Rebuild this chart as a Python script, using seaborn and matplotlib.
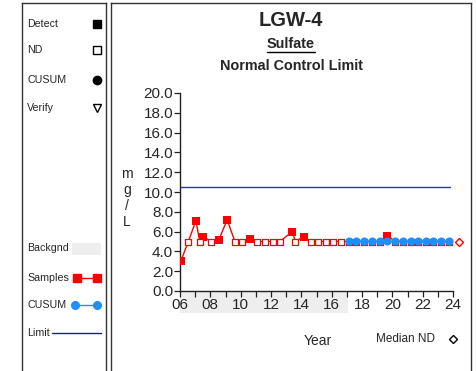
import numpy as np
import pandas as pd
import seaborn as sns
import matplotlib.pyplot as plt
from matplotlib.lines import Line2D
from matplotlib.patches import Rectangle

# data
sample_year = [6.05, 6.55, 7.05, 7.30, 7.51, 8.06, 8.57, 9.11, 9.62, 10.10,
               10.60, 11.09, 11.60, 12.10, 12.58, 13.41, 13.61, 14.16, 14.62, 15.12,
               15.60, 16.11, 16.61, 17.12, 17.62, 18.13, 18.68, 19.18, 19.68, 20.19,
               20.69, 21.20, 21.70, 22.23, 22.70, 23.24, 23.74]
sample_value = [3.0, 5.0, 7.1, 5.0, 5.5, 5.0, 5.2, 7.2, 5.0, 5.0,
                5.3, 5.0, 5.0, 5.0, 5.0, 6.0, 5.0, 5.5, 5.0, 5.0,
                5.0, 5.0, 5.0, 5.0, 5.0, 5.0, 5.0, 5.0, 5.6, 5.0,
                5.0, 5.0, 5.0, 5.0, 5.0, 5.0, 5.0]
detected = [1, 0, 1, 0, 1, 0, 1, 1, 0, 0,
            1, 0, 0, 0, 0, 1, 0, 1, 0, 0,
            0, 0, 0, 0, 0, 0, 0, 0, 1, 0,
            0, 0, 0, 0, 0, 0, 0]
cusum_year = [17.12, 17.62, 18.13, 18.68, 19.18, 19.68, 20.19, 20.69, 21.20, 21.70,
              22.23, 22.70, 23.24, 23.74]
cusum_value = [5.1, 5.1, 5.1, 5.1, 5.1, 5.1, 5.1, 5.1, 5.1, 5.1,
               5.1, 5.1, 5.1, 5.1]
limit_value = 10.55
limit_span = [6.0, 23.8]
background_span = [6.0, 17.1]
median_nd_year = 24.38
median_nd_value = 5.0
x_ticks = [6, 8, 10, 12, 14, 16, 18, 20, 22, 24]
x_labels = ['06', '08', '10', '12', '14', '16', '18', '20', '22', '24']
y_ticks = [0, 2, 4, 6, 8, 10, 12, 14, 16, 18, 20]

df = pd.DataFrame({'Year': sample_year, 'Value': sample_value, 'Detect': detected})
cusum_df = pd.DataFrame({'Year': cusum_year, 'Value': cusum_value})

sns.set_style('white')
plt.rcParams['font.family'] = ['Liberation Sans', 'DejaVu Sans']

W, H = 476, 371
fig = plt.figure(figsize=(W / 100, H / 100), dpi=100)

red = '#FF0000'
blue = '#1E8FFF'
limit_blue = '#2A2AE8'
frame_col = '#333333'


def fx(px):
    return px / W


def fy(py):
    return 1 - py / H


# panels (frames)
lax = fig.add_axes([fx(22), 0, fx(106) - fx(22), fy(3)])
lax.set_xlim(22, 106)
lax.set_ylim(H, 3)
lax.set_xticks([])
lax.set_yticks([])
for s in ['left', 'right', 'top']:
    lax.spines[s].set_color(frame_col)
    lax.spines[s].set_linewidth(1)
lax.spines['bottom'].set_visible(False)

pax = fig.add_axes([fx(111), 0, fx(471) - fx(111), fy(3)])
pax.set_xticks([])
pax.set_yticks([])
for s in ['left', 'right', 'top']:
    pax.spines[s].set_color(frame_col)
    pax.spines[s].set_linewidth(1)
pax.spines['bottom'].set_visible(False)

# left legend panel
fs_leg = 7.7
items = [('Detect', 24), ('ND', 50), ('CUSUM', 80), ('Verify', 108),
         ('Backgnd', 248), ('Samples', 278), ('CUSUM', 305), ('Limit', 333)]
for txt, yy in items:
    lax.text(27, yy, txt, fontsize=fs_leg, va='center', ha='left')
lax.plot([97], [24], marker='s', ms=5.5, color='black', ls='none')
lax.plot([97], [50], marker='s', ms=5.5, mfc='white', mec='black', mew=1, ls='none')
lax.plot([97], [80], marker='o', ms=6, color='black', ls='none')
lax.plot([97], [108], marker='v', ms=6, mfc='white', mec='black', mew=1, ls='none')
lax.add_patch(Rectangle((72, 243), 29, 12, color='#EEEEEE', lw=0))
lax.plot([77, 97], [278, 278], color=red, lw=1, marker='s', ms=5.5)
lax.plot([75, 97], [305, 305], color=blue, lw=1, marker='o', ms=5.5)
lax.plot([52, 101], [333, 333], color='#1A1AA8', lw=1)

# titles
fig.text(fx(291), fy(20), 'LGW-4', fontsize=14.5, fontweight='bold', ha='center', va='center')
fig.text(fx(291), fy(44), 'Sulfate', fontsize=10.4, fontweight='bold', ha='center', va='center')
fig.add_artist(Line2D([fx(267), fx(315)], [fy(51.5), fy(51.5)], color='black', lw=1))
fig.text(fx(291), fy(66), 'Normal Control Limit', fontsize=10.4, fontweight='bold',
         ha='center', va='center')

# data axes
ax = fig.add_axes([fx(180), fy(291), fx(453) - fx(180), fy(93) - fy(291)])
ax.patch.set_alpha(0)
ax.set_xlim(6, 24)
ax.set_ylim(0, 20)

sns.lineplot(data=df, x='Year', y='Value', color=red, lw=1, ax=ax, zorder=3)
sns.scatterplot(data=df[df['Detect'] == 1], x='Year', y='Value', marker='s', s=28,
                color=red, edgecolor=red, linewidth=0, ax=ax, zorder=4)
sns.scatterplot(data=df[df['Detect'] == 0], x='Year', y='Value', marker='s', s=22,
                facecolor='white', edgecolor=red, linewidth=0.9, ax=ax, zorder=4)
sns.lineplot(data=cusum_df, x='Year', y='Value', color=blue, lw=1, marker='o',
             markersize=5.8, markeredgewidth=0, ax=ax, zorder=5)
ax.plot(limit_span, [limit_value, limit_value], color=limit_blue, lw=1, zorder=2)
ax.plot([median_nd_year], [median_nd_value], marker='D', ms=4, mfc='white', mec=red,
        mew=1, ls='none', clip_on=False)

# background period strip under the axis
ax.add_patch(Rectangle((background_span[0], -0.11), background_span[1] - background_span[0], 0.11,
                       transform=ax.get_xaxis_transform(), color='#EEEEEE', lw=0,
                       clip_on=False, zorder=0))

ax.set_xticks(x_ticks)
ax.set_xticklabels(x_labels)
ax.set_xticks(np.arange(6, 25, 1), minor=True)
ax.set_yticks(y_ticks)
ax.set_yticklabels([f'{v:.1f}' for v in y_ticks])
for s in ['top', 'right']:
    ax.spines[s].set_visible(False)
for s in ['left', 'bottom']:
    ax.spines[s].set_color('#222222')
    ax.spines[s].set_linewidth(1)
ax.tick_params(axis='both', which='both', direction='out', length=4, width=0.9,
               color='#222222', labelsize=11, pad=1, bottom=True, left=True)
ax.tick_params(axis='x', which='minor', length=4)
ax.set_xlabel('')
ax.set_ylabel('')

fig.text(fx(127), fy(198), 'm\ng\n/\nL', fontsize=10, ha='center', va='center', linespacing=1.2)
fig.text(fx(318), fy(341), 'Year', fontsize=10, ha='center', va='center')
fig.text(fx(376), fy(339), 'Median ND', fontsize=8.5, ha='left', va='center')
fig.add_artist(Line2D([fx(453)], [fy(339)], marker='D', ms=4, mfc='white', mec='black',
                      mew=1, ls='none'))

fig.savefig('out.png', dpi=100)
